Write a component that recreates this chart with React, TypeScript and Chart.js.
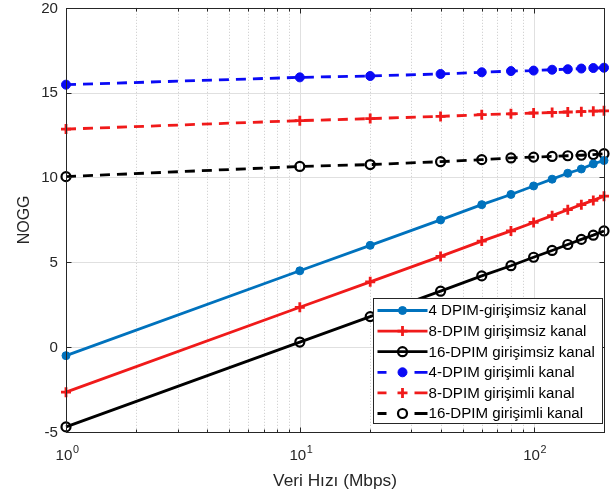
import React, { useEffect, useRef } from "react";
import { Chart, registerables } from "chart.js";

Chart.register(...registerables);

// ---- data ----
const dataRates = [1, 10, 20, 40, 60, 80, 100, 120, 140, 160, 180, 200];

const dpim4NoInterference = [-0.5, 4.5, 6.0, 7.5, 8.4, 9.0, 9.5, 9.9, 10.25, 10.5, 10.8, 11.0];
const dpim8NoInterference = [-2.65, 2.35, 3.85, 5.35, 6.25, 6.85, 7.35, 7.75, 8.1, 8.4, 8.65, 8.9];
const dpim16NoInterference = [-4.7, 0.3, 1.8, 3.3, 4.2, 4.8, 5.3, 5.7, 6.05, 6.35, 6.6, 6.85];
const dpim4Interference = [15.47, 15.9, 15.98, 16.1, 16.2, 16.27, 16.3, 16.35, 16.38, 16.42, 16.45, 16.47];
const dpim8Interference = [12.85, 13.35, 13.47, 13.6, 13.7, 13.75, 13.8, 13.83, 13.86, 13.88, 13.91, 13.93];
const dpim16Interference = [10.05, 10.65, 10.76, 10.93, 11.05, 11.15, 11.2, 11.24, 11.28, 11.31, 11.35, 11.4];

const seriesLabels = [
  "4 DPIM-girişimsiz kanal",
  "8-DPIM girişimsiz kanal",
  "16-DPIM girişimsiz kanal",
  "4-DPIM girişimli kanal",
  "8-DPIM girişimli kanal",
  "16-DPIM girişimli kanal",
];

const yTickValues = [-5, 0, 5, 10, 15, 20];
const xMajorTicks = [1, 10, 100];
const xTickBase = "10";
const xTickExponents = ["0", "1", "2"];
const xMinorTicks = [2, 3, 4, 5, 6, 7, 8, 9, 20, 30, 40, 50, 60, 70, 80, 90];
const xTitle = "Veri Hızı (Mbps)";
const yTitle = "NOGG";

const FONT = '"Liberation Sans", Arial, Helvetica, sans-serif';
const AXIS_COLOR = "#262626";
const STRETCH = 1.08;

function stretchedText(
  ctx: CanvasRenderingContext2D,
  text: string,
  x: number,
  y: number,
  align: CanvasTextAlign,
  baseline: CanvasTextBaseline,
  font: string,
  color: string
) {
  ctx.save();
  ctx.font = font;
  ctx.fillStyle = color;
  ctx.textAlign = align;
  ctx.textBaseline = baseline;
  ctx.translate(x, y);
  ctx.scale(STRETCH, 1);
  ctx.fillText(text, 0, 0);
  ctx.restore();
}

function drawMarker(ctx: CanvasRenderingContext2D, ds: any, cx: number, cy: number) {
  ctx.save();
  ctx.setLineDash([]);
  const r = ds.pointRadius;
  ctx.lineWidth = ds.pointBorderWidth;
  ctx.strokeStyle = ds.pointBorderColor;
  ctx.fillStyle = ds.pointBackgroundColor;
  if (ds.pointStyle === "cross") {
    ctx.beginPath();
    ctx.moveTo(cx - r, cy);
    ctx.lineTo(cx + r, cy);
    ctx.moveTo(cx, cy - r);
    ctx.lineTo(cx, cy + r);
    ctx.stroke();
  } else {
    ctx.beginPath();
    ctx.arc(cx, cy, r, 0, Math.PI * 2);
    ctx.fill();
    ctx.stroke();
  }
  ctx.restore();
}

const matlabPlugin = {
  id: "matlabLook",
  beforeDatasetsDraw(chart: any) {
    const { ctx, chartArea: a, scales } = chart;
    const xs = scales.x;
    const ys = scales.y;
    ctx.save();
    ctx.lineWidth = 1;
    // minor (dotted) x grid
    ctx.strokeStyle = "#c9c9c9";
    ctx.setLineDash([1, 2]);
    for (const v of xMinorTicks) {
      const px = Math.round(xs.getPixelForValue(v)) + 0.5;
      ctx.beginPath();
      ctx.moveTo(px, a.top);
      ctx.lineTo(px, a.bottom);
      ctx.stroke();
    }
    // major grid
    ctx.setLineDash([]);
    ctx.strokeStyle = "#e0e0e0";
    for (const v of xMajorTicks) {
      const px = Math.round(xs.getPixelForValue(v)) + 0.5;
      if (px <= a.left + 1 || px >= a.right - 1) continue;
      ctx.beginPath();
      ctx.moveTo(px, a.top);
      ctx.lineTo(px, a.bottom);
      ctx.stroke();
    }
    for (const v of yTickValues) {
      const py = Math.round(ys.getPixelForValue(v)) + 0.5;
      if (py <= a.top + 1 || py >= a.bottom - 1) continue;
      ctx.beginPath();
      ctx.moveTo(a.left, py);
      ctx.lineTo(a.right, py);
      ctx.stroke();
    }
    ctx.restore();
  },
  afterDraw(chart: any) {
    const { ctx, chartArea: a, scales } = chart;
    const xs = scales.x;
    const ys = scales.y;
    ctx.save();
    // axes box
    ctx.setLineDash([]);
    ctx.strokeStyle = AXIS_COLOR;
    ctx.lineWidth = 1;
    const L = Math.round(a.left) + 0.5;
    const R = Math.round(a.right) + 0.5;
    const T = Math.round(a.top) + 0.5;
    const B = Math.round(a.bottom) + 0.5;
    ctx.strokeRect(L, T, R - L, B - T);
    // tick marks
    ctx.beginPath();
    for (const v of yTickValues) {
      const py = Math.round(ys.getPixelForValue(v)) + 0.5;
      ctx.moveTo(L, py);
      ctx.lineTo(L + 5, py);
      ctx.moveTo(R, py);
      ctx.lineTo(R - 5, py);
    }
    for (const v of xMajorTicks) {
      const px = Math.round(xs.getPixelForValue(v)) + 0.5;
      ctx.moveTo(px, B);
      ctx.lineTo(px, B - 5);
      ctx.moveTo(px, T);
      ctx.lineTo(px, T + 5);
    }
    for (const v of xMinorTicks) {
      const px = Math.round(xs.getPixelForValue(v)) + 0.5;
      ctx.moveTo(px, B);
      ctx.lineTo(px, B - 3);
      ctx.moveTo(px, T);
      ctx.lineTo(px, T + 3);
    }
    ctx.stroke();

    // y tick labels
    for (const v of yTickValues) {
      const py = ys.getPixelForValue(v);
      stretchedText(ctx, String(v), a.left - 8, py + 1, "right", "middle", `14px ${FONT}`, AXIS_COLOR);
    }
    // x tick labels 10^n
    xMajorTicks.forEach((v, i) => {
      const px = xs.getPixelForValue(v);
      ctx.font = `14px ${FONT}`;
      const wBase = ctx.measureText(xTickBase).width * STRETCH;
      ctx.font = `10px ${FONT}`;
      const wExp = ctx.measureText(xTickExponents[i]).width * STRETCH;
      const start = px - (wBase + wExp) / 2 + 1;
      stretchedText(ctx, xTickBase, start, a.bottom + 28, "left", "alphabetic", `14px ${FONT}`, AXIS_COLOR);
      stretchedText(ctx, xTickExponents[i], start + wBase + 0.5, a.bottom + 21, "left", "alphabetic", `10px ${FONT}`, AXIS_COLOR);
    });
    // axis titles
    stretchedText(ctx, xTitle, (a.left + a.right) / 2, a.bottom + 54, "center", "alphabetic", `16px ${FONT}`, AXIS_COLOR);
    ctx.save();
    ctx.translate(25, (a.top + a.bottom) / 2);
    ctx.rotate(-Math.PI / 2);
    ctx.font = `16px ${FONT}`;
    ctx.fillStyle = AXIS_COLOR;
    ctx.textAlign = "center";
    ctx.textBaseline = "middle";
    ctx.fillText(yTitle, 0, 0);
    ctx.restore();

    // legend
    const lw = 229;
    const lh = 125;
    const lx = Math.round(a.right - 2 - lw) + 0.5;
    const ly = Math.round(a.bottom - 9 - lh) + 0.5;
    ctx.fillStyle = "#ffffff";
    ctx.fillRect(lx, ly, lw, lh);
    ctx.strokeStyle = AXIS_COLOR;
    ctx.lineWidth = 1;
    ctx.strokeRect(lx, ly, lw, lh);
    chart.data.datasets.forEach((ds: any, i: number) => {
      const cy = ly + 12 + i * 20.6;
      const x0 = lx + 4;
      const x1 = lx + 54;
      const cx = lx + 29;
      ctx.save();
      ctx.strokeStyle = ds.borderColor;
      ctx.lineWidth = ds.borderWidth;
      ctx.setLineDash([]);
      ctx.beginPath();
      if (ds.borderDash && ds.borderDash.length) {
        ctx.moveTo(x0, cy);
        ctx.lineTo(x0 + 9, cy);
        ctx.moveTo(x1 - 13, cy);
        ctx.lineTo(x1, cy);
      } else {
        ctx.moveTo(x0, cy);
        ctx.lineTo(x1, cy);
      }
      ctx.stroke();
      ctx.restore();
      drawMarker(ctx, ds, cx, cy);
      stretchedText(ctx, ds.label, lx + 55, cy + 1, "left", "middle", `14px ${FONT}`, "#000000");
    });
    ctx.restore();
  },
};

function makeSeries(
  label: string,
  values: number[],
  color: string,
  dashed: boolean,
  marker: "dot" | "cross" | "ring"
) {
  const base: any = {
    label,
    data: dataRates.map((x, i) => ({ x, y: values[i] })),
    borderColor: color,
    borderWidth: 2.8,
    borderDash: dashed ? [10, 7] : [],
    tension: 0,
    fill: false,
    clip: false,
    pointBorderColor: color,
  };
  if (marker === "dot") {
    base.pointStyle = "circle";
    base.pointRadius = dashed ? 4.5 : 4;
    base.pointBorderWidth = 1;
    base.pointBackgroundColor = color;
  } else if (marker === "cross") {
    base.pointStyle = "cross";
    base.pointRadius = 5;
    base.pointBorderWidth = 2.8;
    base.pointBackgroundColor = color;
  } else {
    base.pointStyle = "circle";
    base.pointRadius = 4.5;
    base.pointBorderWidth = 2.2;
    base.pointBackgroundColor = "rgba(0,0,0,0)";
  }
  base.pointHoverRadius = base.pointRadius;
  return base;
}

export default function App() {
  const canvasRef = useRef<HTMLCanvasElement | null>(null);

  useEffect(() => {
    document.body.style.margin = "0";
    const canvas = canvasRef.current;
    if (!canvas) return;
    const chart = new Chart(canvas, {
      type: "line",
      data: {
        datasets: [
          makeSeries(seriesLabels[0], dpim4NoInterference, "#0072BD", false, "dot"),
          makeSeries(seriesLabels[1], dpim8NoInterference, "#f01a1a", false, "cross"),
          makeSeries(seriesLabels[2], dpim16NoInterference, "#000000", false, "ring"),
          makeSeries(seriesLabels[3], dpim4Interference, "#0a0af5", true, "dot"),
          makeSeries(seriesLabels[4], dpim8Interference, "#f01a1a", true, "cross"),
          makeSeries(seriesLabels[5], dpim16Interference, "#000000", true, "ring"),
        ],
      },
      options: {
        responsive: false,
        animation: false,
        devicePixelRatio: 1,
        layout: { padding: { top: 7, right: 8, left: 0, bottom: 0 } },
        plugins: {
          legend: { display: false },
          tooltip: { enabled: false },
          title: { display: false },
        },
        scales: {
          x: {
            type: "logarithmic",
            min: 1,
            max: 200,
            grid: { display: false, drawTicks: false },
            border: { display: false },
            ticks: { display: false },
            afterFit: (s: any) => {
              s.height = 63;
            },
          },
          y: {
            type: "linear",
            min: -5,
            max: 20,
            grid: { display: false, drawTicks: false },
            border: { display: false },
            ticks: { display: false, stepSize: 5 },
            afterFit: (s: any) => {
              s.width = 66;
            },
          },
        },
      } as any,
      plugins: [matlabPlugin],
    });
    return () => chart.destroy();
  }, []);

  return (
    <div style={{ width: 612, height: 495, background: "#ffffff" }}>
      <canvas ref={canvasRef} width={612} height={495} style={{ display: "block" }} />
    </div>
  );
}
